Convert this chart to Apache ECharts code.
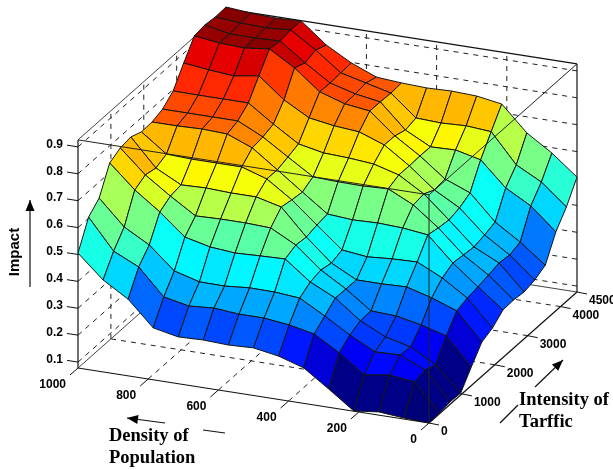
<!DOCTYPE html>
<html>
<head>
<meta charset="utf-8">
<style>html,body{margin:0;padding:0;background:#fff}#c{width:613px;height:470px}</style>
<script src="https://cdn.jsdelivr.net/npm/echarts@6/dist/echarts.min.js"></script>
</head>
<body>
<div id="c"></div>
<script>
// Impact readings: one list per density step (0..1000 in 14 steps), each running over intensity (0..4500 in 14 steps)
var impactD00 = [.078,.080,.087,.085,.147,.205,.222,.255,.257,.252,.262,.282,.371,.429,.505];
var impactD01 = [.082,.181,.191,.175,.248,.306,.319,.326,.335,.345,.340,.353,.453,.507,.580];
var impactD02 = [.090,.192,.232,.227,.274,.340,.379,.400,.395,.390,.400,.413,.505,.556,.640];
var impactD03 = [.079,.178,.229,.250,.293,.366,.424,.490,.481,.476,.486,.507,.595,.665,.733];
var impactD04 = [.146,.245,.277,.295,.297,.363,.421,.501,.552,.558,.538,.544,.617,.672,.748];
var impactD05 = [.210,.301,.333,.365,.364,.363,.414,.505,.597,.614,.613,.615,.614,.668,.752];
var impactD06 = [.239,.320,.385,.410,.420,.411,.425,.502,.593,.640,.676,.675,.662,.672,.749];
var impactD07 = [.255,.331,.393,.481,.498,.493,.503,.509,.594,.648,.710,.753,.752,.750,.753];
var impactD08 = [.251,.331,.394,.478,.547,.590,.582,.576,.598,.652,.718,.765,.767,.773,.760];
var impactD09 = [.255,.339,.386,.474,.551,.613,.645,.644,.657,.671,.733,.795,.793,.796,.798];
var impactD10 = [.252,.332,.387,.482,.551,.613,.675,.711,.717,.730,.785,.869,.853,.866,.850];
var impactD11 = [.271,.351,.413,.504,.548,.617,.675,.748,.762,.794,.860,.925,.920,.926,.925];
var impactD12 = [.363,.448,.495,.583,.607,.614,.675,.752,.762,.794,.845,.914,.917,.919,.921];
var impactD13 = [.420,.492,.547,.650,.671,.662,.679,.749,.762,.794,.853,.918,.917,.923,.925];
var impactD14 = [.505,.604,.640,.736,.757,.763,.747,.749,.762,.795,.864,.930,.936,.931,.933];
var impact = [impactD00,impactD01,impactD02,impactD03,impactD04,impactD05,impactD06,impactD07,impactD08,impactD09,impactD10,impactD11,impactD12,impactD13,impactD14];

var densityTicks = [0,200,400,600,800,1000];
var intensityTicks = [0,1000,2000,3000,4000,4500];
var impactTicks = [0.1,0.2,0.3,0.4,0.5,0.6,0.7,0.8,0.9];
var densityMax = 1000, intensityMax = 4500, impactFloor = 0.078, impactTop = 0.926;

// Parallel projection of the 3D box on to the page
function project(d, t, z) {
  var u = d / densityMax, v = t / intensityMax;
  return [429 - 351 * u + 148 * v, 423 - 55 * u - 131 * v - (z - impactFloor) * 269];
}
function jet(n) {
  n = Math.max(0, Math.min(1, n));
  n = (Math.floor(n * 64 - 1e-9) + 0.5) / 64;
  function c(v){ return Math.round(255 * Math.max(0, Math.min(1, v))); }
  return 'rgb(' + c(1.5 - Math.abs(4 * n - 3)) + ',' + c(1.5 - Math.abs(4 * n - 2)) + ',' + c(1.5 - Math.abs(4 * n - 1)) + ')';
}

// faces, far to near
var N = impact.length - 1, faces = [];
for (var a = N - 1; a >= 0; a--) for (var b = N - 1; b >= 0; b--) faces.push([a, b]);
function gd(i){ return i * densityMax / N; }
function gt(j){ return j * intensityMax / N; }

// dashed grid on the floor and the two back walls
var F = impactFloor, T = impactTop, DM = densityMax, IM = intensityMax;
var dashed = [], thin = [], solid = [], overlay = [], ticks = [];
densityTicks.forEach(function (d) {
  if (d > 0 && d < DM) { dashed.push([d,0,F,d,IM,F]); dashed.push([d,IM,F,d,IM,T]); }
});
intensityTicks.forEach(function (t) {
  if (t > 0 && t < IM) { dashed.push([0,t,F,DM,t,F]); dashed.push([DM,t,F,DM,t,T]); }
});
impactTicks.forEach(function (z) {
  dashed.push([DM,0,z,DM,IM,z]); dashed.push([0,IM,z,DM,IM,z]);
});
dashed.push([DM,IM,F,DM,IM,T]);
thin.push([DM,0,F,DM,IM,F],[0,IM,F,DM,IM,F],[DM,0,T,DM,IM,T]);
solid.push([DM,0,F,0,0,F],[0,0,F,0,IM,F],[DM,0,F,DM,0,T],[0,IM,F,0,IM,T],[DM,IM,T,0,IM,T]);
overlay.push([DM,0,T,0,0,T],[0,0,T,0,IM,T],[0,0,F,0,0,T]);

var sans = 'bold 12px "Liberation Sans", Arial, sans-serif';
var serif = 'bold 18.5px "Liberation Serif", "Times New Roman", serif';
var labels = [];
impactTicks.forEach(function (z) { var p = project(DM,0,z); labels.push([z.toFixed(1), p[0]-15, p[1]-2.5, 'right', sans]); });
densityTicks.forEach(function (d) { var p = project(d,0,F); labels.push([String(d), p[0]-12, p[1]+17, 'right', sans]); });
intensityTicks.forEach(function (t) { var p = project(0,t,F); labels.push([String(t), p[0]+12, p[1]+9, 'left', sans]); });
var captions = [
  ['Density of', 109, 436, 'left', serif],
  ['Population', 109, 458, 'left', serif],
  ['Intensity of', 519, 400, 'left', serif],
  ['Tarffic', 519, 422, 'left', serif]
];
var arrows = [
  [[30,287],[30,200]], [[165,423],[127,418]], [[225,433],[203,430]], [[535,387],[563,360]], [[500,423],[518,405]]
];

function lineSeries(list, style) {
  return {
    type: 'custom', coordinateSystem: 'cartesian2d', silent: true, clip: false,
    data: list.map(function (l, i) { return [i, 0]; }),
    renderItem: function (params, api) {
      var l = list[params.dataIndex];
      var p = api.coord(project(l[0],l[1],l[2])), q = api.coord(project(l[3],l[4],l[5]));
      return { type: 'line', shape: {x1:p[0],y1:p[1],x2:q[0],y2:q[1]}, style: style };
    }
  };
}
// axis ticks
densityTicks.forEach(function (d) { ticks.push(['d', d]); });
intensityTicks.forEach(function (t) { ticks.push(['t', t]); });
impactTicks.forEach(function (z) { ticks.push(['z', z]); });

var option = {
  animation: false,
  backgroundColor: '#fff',
  grid: { left: 0, right: 0, top: 0, bottom: 0 },
  xAxis: { type: 'value', min: 0, max: 613, show: false },
  yAxis: { type: 'value', min: 0, max: 470, inverse: true, show: false },
  series: [
    lineSeries(dashed, { stroke: '#222', lineWidth: 1, lineDash: [5, 5], fill: null }),
    lineSeries(thin, { stroke: '#444', lineWidth: 1, fill: null }),
    lineSeries(solid, { stroke: '#111', lineWidth: 1.2, fill: null }),
    {
      type: 'custom', coordinateSystem: 'cartesian2d', silent: true, clip: false,
      data: ticks.map(function (t, i) { return [i, 0]; }),
      renderItem: function (params, api) {
        var k = ticks[params.dataIndex], o, dx, dy;
        if (k[0] === 'd') { o = project(k[1],0,F); dx = -8; dy = 7; }
        else if (k[0] === 't') { o = project(0,k[1],F); dx = 10; dy = 2; }
        else { o = project(DM,0,k[1]); dx = -11; dy = -1.7; }
        var p = api.coord(o), q = api.coord([o[0]+dx, o[1]+dy]);
        return { type: 'line', shape: {x1:p[0],y1:p[1],x2:q[0],y2:q[1]}, style: { stroke:'#111', lineWidth:1, fill:null } };
      }
    },
    {
      type: 'custom', coordinateSystem: 'cartesian2d', silent: true, clip: false,
      data: faces,
      renderItem: function (params, api) {
        var i = faces[params.dataIndex][0], j = faces[params.dataIndex][1];
        var pts = [[i,j],[i+1,j],[i+1,j+1],[i,j+1]].map(function (c) {
          return api.coord(project(gd(c[0]), gt(c[1]), impact[c[0]][c[1]]));
        });
        return {
          type: 'polygon', shape: { points: pts },
          style: { fill: jet((impact[i][j] - impactFloor) / (0.936 - impactFloor)), stroke: '#151515', lineWidth: 1, lineJoin: 'round' }
        };
      }
    },
    lineSeries(overlay, { stroke: '#222', lineWidth: 1, fill: null }),
    {
      type: 'custom', coordinateSystem: 'cartesian2d', silent: true, clip: false,
      data: arrows.map(function (a, i) { return [i, 0]; }),
      renderItem: function (params, api) {
        var a = arrows[params.dataIndex], p = api.coord(a[0]), q = api.coord(a[1]);
        var kids = [{ type: 'line', shape: {x1:p[0],y1:p[1],x2:q[0],y2:q[1]}, style: { stroke:'#111', lineWidth:1.2, fill:null } }];
        var hasHead = params.dataIndex === 0 || params.dataIndex === 1 || params.dataIndex === 3;
        if (hasHead) {
          var ang = Math.atan2(q[1]-p[1], q[0]-p[0]), L = 11, W = 4.5;
          var bx = q[0]-L*Math.cos(ang), by = q[1]-L*Math.sin(ang);
          kids.push({ type:'polygon', shape:{ points:[[q[0],q[1]],[bx-W*Math.sin(ang),by+W*Math.cos(ang)],[bx+W*Math.sin(ang),by-W*Math.cos(ang)]] }, style:{ fill:'#000' } });
        }
        return { type:'group', children:kids };
      }
    },
    {
      type: 'custom', coordinateSystem: 'cartesian2d', silent: false, clip: false,
      data: labels.concat(captions).map(function (l, i) { return [i, 0]; }),
      renderItem: function (params, api) {
        var l = labels.concat(captions)[params.dataIndex], p = api.coord([l[1], l[2]]);
        return { type:'text', x:p[0], y:p[1], style:{ text:l[0], font:l[4], fill:'#000', align:l[3], verticalAlign:'middle' } };
      }
    },
    {
      type: 'custom', coordinateSystem: 'cartesian2d', clip: false,
      data: [[0,0]],
      renderItem: function (params, api) {
        var p = api.coord([15, 252]);
        return { type:'text', x:p[0], y:p[1], rotation:Math.PI/2, style:{ text:'Impact', font:'bold 15px "Liberation Sans", Arial, sans-serif', fill:'#000', align:'center', verticalAlign:'middle' } };
      }
    }
  ]
};
echarts.init(document.getElementById('c'), null, { renderer: 'canvas' }).setOption(option);
</script>
</body>
</html>
